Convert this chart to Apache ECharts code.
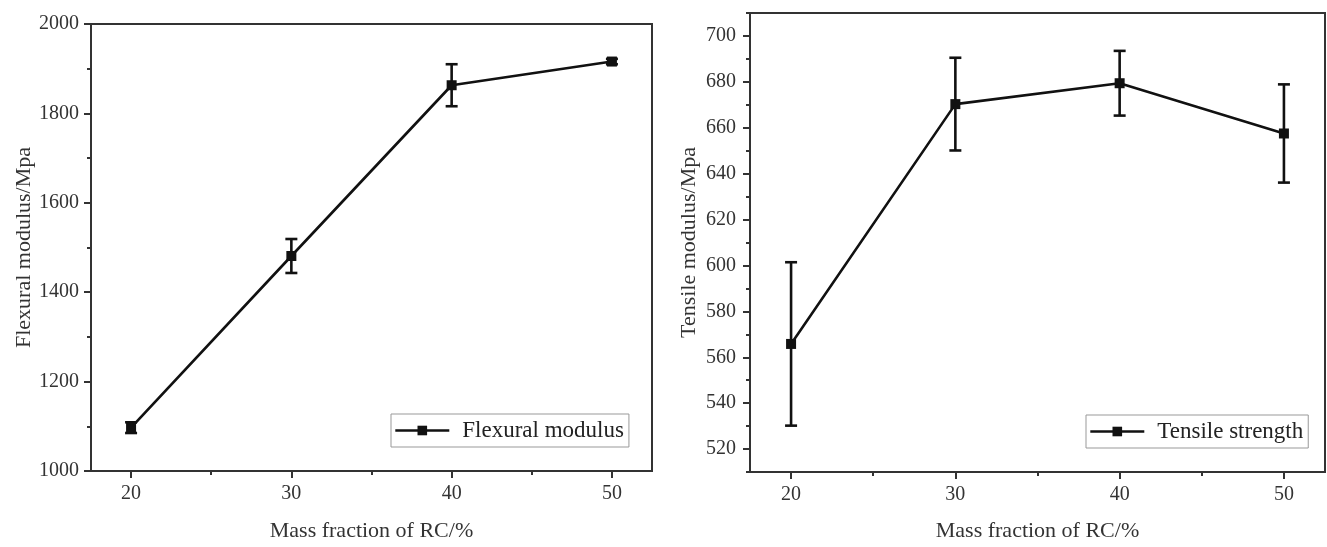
<!DOCTYPE html>
<html>
<head>
<meta charset="utf-8">
<script src="https://cdn.jsdelivr.net/npm/echarts@6/dist/echarts.min.js"></script>
<style>
  html, body { margin: 0; padding: 0; background: #fff; }
  #chart { width: 1327px; height: 547px; }
</style>
</head>
<body>
<div id="chart"></div>
<script>
// ---- data ----
const categories = [20, 30, 40, 50];
const flexuralName = 'Flexural modulus';
const flexuralMean = [1097, 1481, 1863, 1916];
const flexuralErr = [12, 38, 47, 6];
const tensileName = 'Tensile strength';
const tensileMean = [565.8, 670.3, 679.4, 657.5];
const tensileErr = [35.6, 20.2, 14.1, 21.4];
const xTickLabels = [20, 30, 40, 50];
const xMinorTicks = [25, 35, 45];
const flexTicks = [1000, 1200, 1400, 1600, 1800, 2000];
const flexMinorTicks = [1100, 1300, 1500, 1700, 1900];
const tensileTicks = [520, 540, 560, 580, 600, 620, 640, 660, 680, 700];
const tensileMinorTicks = [510, 530, 550, 570, 590, 610, 630, 650, 670, 690, 710];

// ---- styling ----
const FONT = '"Liberation Serif", "DejaVu Serif", serif';
const AXIS_COLOR = '#333';
const TEXT_COLOR = '#333';
const plain = function (v) { return String(v); };

function majorX(gridIndex, nameGap) {
  return {
    type: 'value', gridIndex: gridIndex, position: 'bottom', min: 17.5, max: 52.5,
    name: 'Mass fraction of RC/%', nameLocation: 'middle', nameGap: nameGap,
    nameTextStyle: { fontFamily: FONT, fontSize: 22, color: TEXT_COLOR },
    axisLine: { show: true, onZero: false, lineStyle: { color: AXIS_COLOR, width: 2 } },
    axisTick: { show: true, inside: false, length: 7, customValues: xTickLabels, lineStyle: { color: AXIS_COLOR, width: 2 } },
    axisLabel: { show: true, margin: 13, customValues: xTickLabels, formatter: plain, fontFamily: FONT, fontSize: 20, color: TEXT_COLOR },
    splitLine: { show: false }
  };
}
function minorX(gridIndex) {
  return {
    type: 'value', gridIndex: gridIndex, position: 'bottom', min: 17.5, max: 52.5,
    axisLine: { show: false, onZero: false },
    axisTick: { show: true, inside: false, length: 4, customValues: xMinorTicks, lineStyle: { color: AXIS_COLOR, width: 2 } },
    axisLabel: { show: false },
    splitLine: { show: false }
  };
}
function majorY(gridIndex, min, max, ticks, name, nameGap, margin) {
  return {
    type: 'value', gridIndex: gridIndex, position: 'left', min: min, max: max,
    name: name, nameLocation: 'middle', nameGap: nameGap,
    nameTextStyle: { fontFamily: FONT, fontSize: 22, color: TEXT_COLOR },
    axisLine: { show: true, onZero: false, lineStyle: { color: AXIS_COLOR, width: 2 } },
    axisTick: { show: true, inside: false, length: 7, customValues: ticks, lineStyle: { color: AXIS_COLOR, width: 2 } },
    axisLabel: { show: true, margin: margin, customValues: ticks, formatter: plain, fontFamily: FONT, fontSize: 20, color: TEXT_COLOR },
    splitLine: { show: false }
  };
}
function minorY(gridIndex, min, max, ticks) {
  return {
    type: 'value', gridIndex: gridIndex, position: 'left', min: min, max: max,
    axisLine: { show: false, onZero: false },
    axisTick: { show: true, inside: false, length: 4, customValues: ticks, lineStyle: { color: AXIS_COLOR, width: 2 } },
    axisLabel: { show: false },
    splitLine: { show: false }
  };
}

function lineSeries(name, axisIdx, means) {
  return {
    type: 'line', name: name, xAxisIndex: axisIdx, yAxisIndex: axisIdx,
    data: categories.map((c, i) => [c, means[i]]),
    symbol: 'rect', symbolSize: 10, showSymbol: true,
    lineStyle: { color: '#111', width: 2.6 },
    itemStyle: { color: '#111' },
    z: 4, animation: false
  };
}
function errorSeries(name, axisIdx, means, errs) {
  return {
    type: 'custom', name: name + ' error', xAxisIndex: axisIdx, yAxisIndex: axisIdx,
    data: categories.map((c, i) => [c, means[i] - errs[i], means[i] + errs[i]]),
    encode: { x: 0, y: [1, 2] },
    silent: true, z: 3, animation: false,
    renderItem: function (params, api) {
      const x = api.value(0);
      const lo = api.coord([x, api.value(1)]);
      const hi = api.coord([x, api.value(2)]);
      const hw = 6;
      const style = { stroke: '#111', lineWidth: 2.6 };
      return {
        type: 'group',
        children: [
          { type: 'line', shape: { x1: lo[0], y1: lo[1], x2: hi[0], y2: hi[1] }, style: style },
          { type: 'line', shape: { x1: lo[0] - hw, y1: lo[1], x2: lo[0] + hw, y2: lo[1] }, style: style },
          { type: 'line', shape: { x1: hi[0] - hw, y1: hi[1], x2: hi[0] + hw, y2: hi[1] }, style: style }
        ]
      };
    }
  };
}

function legendFor(name, left, top) {
  return {
    data: [name], left: left, top: top, orient: 'horizontal',
    itemWidth: 54, itemHeight: 12, itemGap: 0,
    padding: [5, 5, 5, 3],
    borderColor: '#999', borderWidth: 1, borderRadius: 0,
    selectedMode: false,
    lineStyle: { width: 2.6, color: '#111' },
    itemStyle: { color: '#111' },
    textStyle: { fontFamily: FONT, fontSize: 23, color: '#222', padding: [0, 0, 0, 8] }
  };
}

const chart = echarts.init(document.getElementById('chart'), null, { renderer: 'canvas' });
chart.setOption({
  backgroundColor: '#fff',
  animation: false,
  grid: [
    { left: 91, top: 24, width: 561, height: 449, show: true, borderColor: AXIS_COLOR, borderWidth: 2, backgroundColor: 'transparent' },
    { left: 750, top: 13, width: 575, height: 464, show: true, borderColor: AXIS_COLOR, borderWidth: 2, backgroundColor: 'transparent' }
  ],
  xAxis: [majorX(0, 49), majorX(1, 48), minorX(0), minorX(1)],
  yAxis: [
    majorY(0, 1000, 2000, flexTicks, 'Flexural modulus/Mpa', 55, 12),
    majorY(1, 510, 710, tensileTicks, 'Tensile modulus/Mpa', 50, 14),
    minorY(0, 1000, 2000, flexMinorTicks),
    minorY(1, 510, 710, tensileMinorTicks)
  ],
  legend: [legendFor(flexuralName, 391, 414), legendFor(tensileName, 1086, 415)],
  series: [
    errorSeries(flexuralName, 0, flexuralMean, flexuralErr),
    lineSeries(flexuralName, 0, flexuralMean),
    errorSeries(tensileName, 1, tensileMean, tensileErr),
    lineSeries(tensileName, 1, tensileMean)
  ]
});
</script>
</body>
</html>
